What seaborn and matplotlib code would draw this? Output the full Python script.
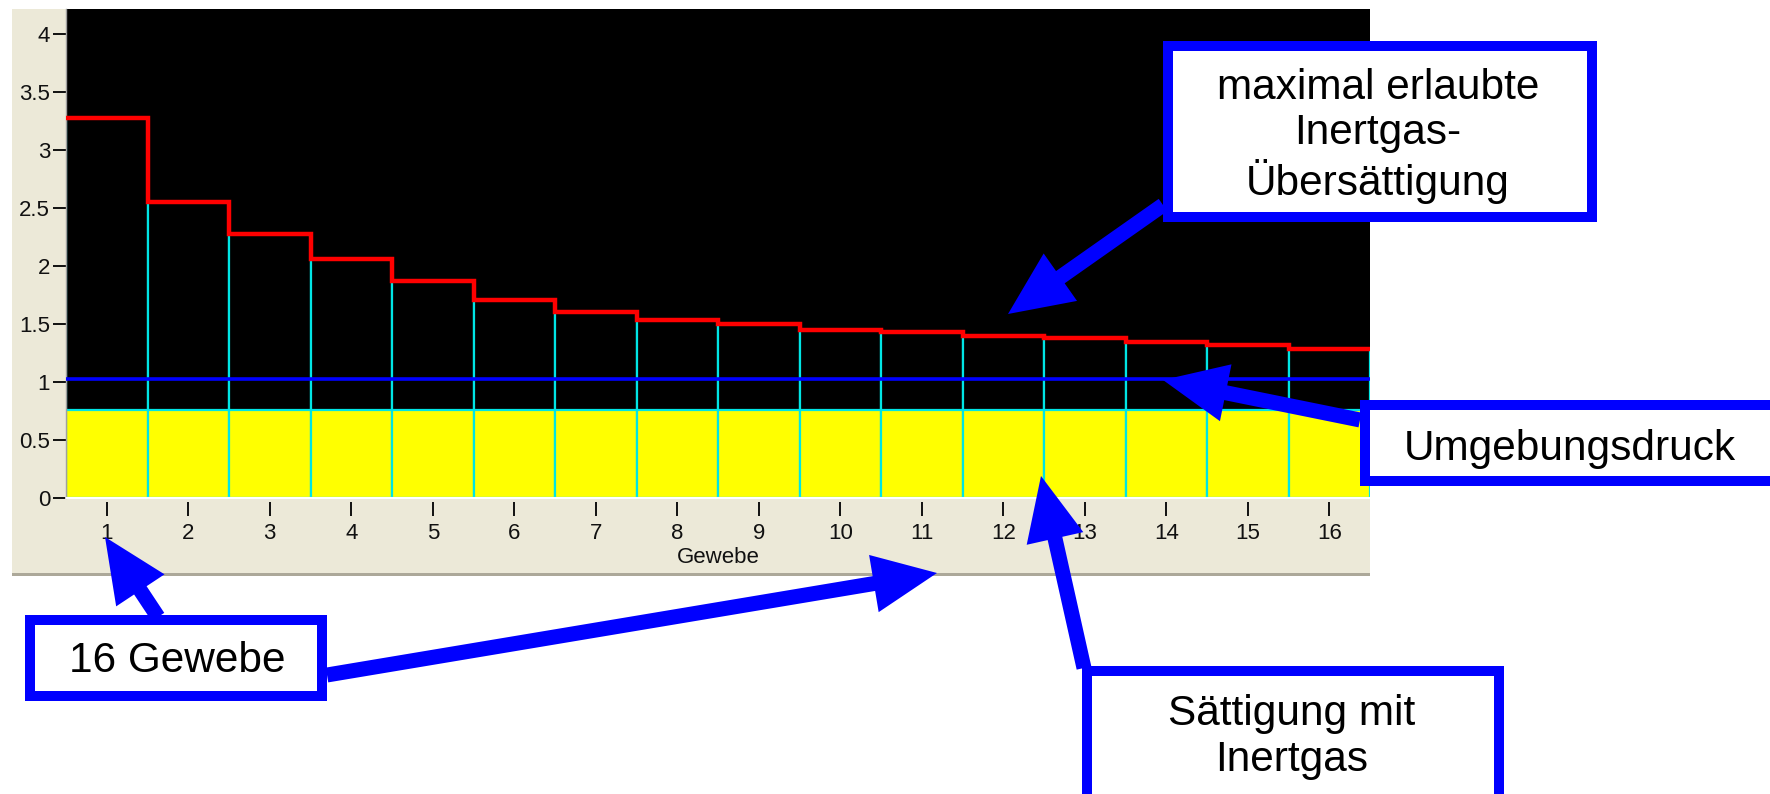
import numpy as np
import pandas as pd
import matplotlib
matplotlib.use("Agg")
import matplotlib.pyplot as plt
from matplotlib.patches import Rectangle, FancyArrow
from matplotlib.transforms import Affine2D
import seaborn as sns

# ---------------- data ----------------
tissues = [str(i) for i in range(1, 17)]
max_allowed = [3.28, 2.55, 2.28, 2.06, 1.87, 1.71, 1.61, 1.54,
               1.50, 1.45, 1.43, 1.40, 1.38, 1.35, 1.32, 1.29]
saturation = [0.76, 0.76, 0.76, 0.76, 0.76, 0.76, 0.76, 0.76,
              0.76, 0.76, 0.76, 0.76, 0.76, 0.76, 0.76, 0.76]
ambient_pressure = 1.03
y_ticks = [0, 0.5, 1, 1.5, 2, 2.5, 3, 3.5, 4]
y_tick_labels = ["0", "0.5", "1", "1.5", "2", "2.5", "3", "3.5", "4"]
x_label = "Gewebe"
box_texts = ["maximal erlaubte\nInertgas-\nÜbersättigung",
             "Umgebungsdruck",
             "Sättigung mit\nInertgas",
             "16 Gewebe"]

df = pd.DataFrame({"Gewebe": tissues, "max": max_allowed, "sat": saturation})

# ---------------- figure ----------------
W, H, DPI = 1770, 794, 100
sns.set_style("white")
plt.rcParams["font.family"] = ["Liberation Sans", "DejaVu Sans"]
fig = plt.figure(figsize=(W / DPI, H / DPI), dpi=DPI, facecolor="white")

# pixel transform (origin top-left)
T = Affine2D().scale(1 / W, -1 / H).translate(0, 1) + fig.transFigure

# grey window panel
fig.patches.append(Rectangle((12, 9), 1370 - 12, 574 - 9, transform=T,
                             facecolor="#ECE9D8", edgecolor="none", zorder=-2))
fig.patches.append(Rectangle((12, 573), 1370 - 12, 3, transform=T,
                             facecolor="#ACA899", edgecolor="none", zorder=-1))

left, right = 66 / W, 1370 / W
bottom, top = 1 - 498.5 / H, 1 - 9 / H
ax = fig.add_axes([left, bottom, right - left, top - bottom])
ax.set_facecolor("black")

cyan = "#00E5E5"
sns.barplot(data=df, x="Gewebe", y="max", color="black", saturation=1,
            width=1.0, edgecolor=cyan, linewidth=1.6, ax=ax, zorder=1)
sns.barplot(data=df, x="Gewebe", y="sat", color="#FFFF00", saturation=1,
            width=1.0, edgecolor=cyan, linewidth=1.6, ax=ax, zorder=2)
ax.axhline(ambient_pressure, color="#0000FF", lw=2.6, zorder=3)
edges = np.arange(len(tissues) + 1) - 0.5
ax.stairs(max_allowed, edges, baseline=None, color="#FF0000", lw=3.2, zorder=4)

ax.set_xlim(-0.5, len(tissues) - 0.5)
ax.set_ylim(0, 4.216)
ax.set_yticks(y_ticks)
ax.set_yticklabels(y_tick_labels)
for s in ["top", "right"]:
    ax.spines[s].set_visible(False)
ax.spines["left"].set_color("#A0A0A0")
ax.spines["left"].set_linewidth(1)
ax.spines["bottom"].set_position(("outward", 2.5))
ax.spines["bottom"].set_visible(False)
ax.axhline(0, color="white", lw=1.5, zorder=5, clip_on=False)

ax.tick_params(axis="y", left=True, length=9.5, width=1.3, color="black",
               pad=2, labelsize=16, labelcolor="#111111")
ax.tick_params(axis="x", bottom=True, length=10, width=1.3, color="black",
               pad=5, labelsize=16, labelcolor="#111111")
ax.set_xlabel(x_label, fontsize=16, color="#111111", labelpad=2)
ax.set_ylabel("")

# ---------------- annotation arrows ----------------
blue = "#0000FF"
arrows = [((1163, 205), (1008, 314)),
          ((1360, 420), (1163, 380)),
          ((1084, 668), (1041, 476)),
          ((158, 617), (105, 537)),
          ((327, 675), (937, 573))]
for (x0, y0), (x1, y1) in arrows:
    fig.patches.append(FancyArrow(x0, y0, x1 - x0, y1 - y0, width=15,
                                  head_width=58, head_length=64,
                                  length_includes_head=True, transform=T,
                                  facecolor=blue, edgecolor="none", zorder=5))

# ---------------- boxes ----------------
boxes = [(1163, 41, 1597, 222), (1360, 400, 1790, 486),
         (1082, 666, 1504, 810), (25, 615, 327, 701)]
centers = [(1378, 136), (1570, 449), (1292, 737), (177, 661)]
bw = 10
for (x0, y0, x1, y1), (cx, cy), txt in zip(boxes, centers, box_texts):
    fig.patches.append(Rectangle((x0 + bw / 2, y0 + bw / 2), x1 - x0 - bw,
                                 y1 - y0 - bw, transform=T, facecolor="white",
                                 edgecolor=blue, lw=bw * 72 / DPI, zorder=6))
    fig.text(cx, cy, txt, transform=T, ha="center", va="center",
             fontsize=30.5, linespacing=1.17, color="black", zorder=7)

fig.savefig("out.png", dpi=DPI, facecolor="white")
